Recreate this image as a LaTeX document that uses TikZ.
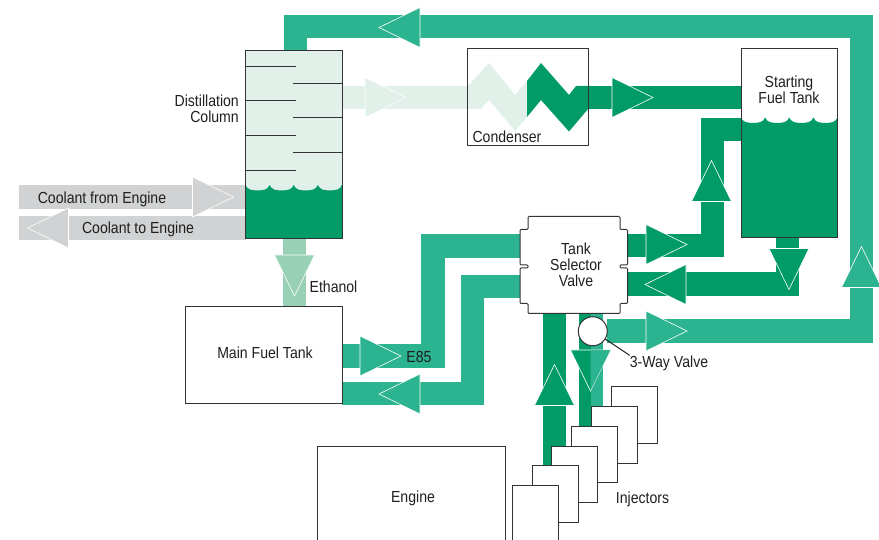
\documentclass[tikz,border=0pt]{standalone}
\usepackage{fontspec}
\setmainfont{Liberation Sans}[FakeStretch=0.88]
\usetikzlibrary{backgrounds}
\definecolor{darkgreen}{HTML}{009B67}
\definecolor{midgreen}{HTML}{2CB38F}
\definecolor{palegreen}{HTML}{97D0B5}
\definecolor{mistgreen}{HTML}{E1F0E9}
\definecolor{coolgray}{HTML}{D0D2D3}
\definecolor{inkgray}{HTML}{333333}
\tikzset{
  tankbox/.style={draw=inkgray, line width=1pt, fill=white, inner sep=0pt, outer sep=0pt, align=center, text=inkgray!60!black},
  tagtext/.style={inner sep=0pt, align=center, text=inkgray!60!black},
  pipe/.style={line width=23.5pt},
  darkpipe/.style={pipe, draw=darkgreen},
  midpipe/.style={pipe, draw=midgreen},
  palepipe/.style={pipe, draw=palegreen},
  mistpipe/.style={pipe, draw=mistgreen},
  coolpipe/.style={pipe, draw=coolgray},
  plate/.style={draw=inkgray, line width=1pt},
  flow/.pic={\path[pic actions, draw=white, line width=0.6pt] (0,-20) -- (41,0) -- (0,20) -- cycle;}
}
\newcommand{\liquid}[2]{%
  \fill[darkgreen] (#1.south west) -- (#1.west |- 0,#2)
    \foreach \s in {1,...,4}{ .. controls +(2,4.8) and +(-6,0) .. ++(12.06,5.4) .. controls +(6,0) and +(-2,4.8) .. ++(12.06,-5.4)}
    -- (#1.south east) -- cycle;
  \draw[plate] (#1.south west) rectangle (#1.north east);
}
\begin{document}
\begin{tikzpicture}[x=1pt, y=-1pt, every node/.append style={font=\fontsize{16}{16}\selectfont}]
  \useasboundingbox (0,0) rectangle (879,540);
  \node[tankbox, fill=mistgreen, minimum width=96.5pt, minimum height=188pt] (column) at (293.75,145) {};
  \foreach \y in {67,101,136,171} \draw[plate] (column.west |- 0,\y) -- (296,\y);
  \foreach \y in {84,118,153} \draw[plate] (293,\y) -- (column.east |- 0,\y);
  \liquid{column}{185}
  \node[tagtext, align=right, anchor=east] (columntext) at (239,109) {Distillation\\Column};
  \node[tankbox, fill=none, minimum width=121pt, minimum height=97pt] (condenser) at (528,97.5) {};
  \node[tagtext] (condensertext) at (507,136.5) {Condenser};
  \node[tankbox, minimum width=96.5pt, minimum height=188.5pt] (startfuel) at (789.25,143.25) {};
  \liquid{startfuel}{117.5}
  \node[tagtext] (startfueltext) at (789,89.5) {Starting\\Fuel Tank};
  \node[tankbox, minimum width=156.5pt, minimum height=97pt] (mainfuel) at (263.75,355) {};
  \node[tagtext] (mainfueltext) at (265,352.5) {Main Fuel Tank};
  \node[tankbox, minimum width=188pt, minimum height=101pt] (engine) at (411,497) {};
  \node[tagtext] (enginetext) at (413,498) {Engine};
  \draw[plate, fill=white, rounded corners=1pt] (528,216.5) -- (620,216.5) -- (620,229.5) -- (627.5,229.5) -- (627.5,265) -- (620,265) -- (620,268) -- (627.5,268) -- (627.5,303.5) -- (620,303.5) -- (620,313.5) -- (528,313.5) -- (528,303.5) -- (520,303.5) -- (520,268) -- (528,268) -- (528,265) -- (520,265) -- (520,229.5) -- (528,229.5) -- cycle;
  \node[inner sep=0pt, minimum width=107.5pt, minimum height=97pt] (valve) at (573.75,265) {};
  \node[tagtext] (valvetext) at (576,265) {Tank\\Selector\\Valve};
  \node[draw=inkgray, line width=1pt, fill=white, circle, minimum size=29pt, inner sep=0pt, outer sep=0pt] (threeway) at (592.75,331.25) {};
  \foreach \i in {0,...,5}
    \node[tankbox, minimum width=46pt, minimum height=56.5pt] (inj\i) at (634.5-19.85*\i,415+19.8*\i) {};
  \node[tagtext] (injectortext) at (642.5,499) {Injectors};
  \node[tagtext] (threetext) at (669,363) {3-Way Valve};
  \node[tagtext] (ethanoltext) at (333.5,287) {Ethanol};
  \node[tagtext] (e85text) at (419,356.5) {E85};
  \coordinate (coolin) at (19,197);
  \coordinate (coolout) at (19,228);
  \begin{scope}[on background layer]
    \draw[coolpipe] (coolin) -- (column.west |- coolin);
    \draw[coolpipe] (column.west |- coolout) -- (coolout);
    \draw[midpipe] (threeway) -| (861.5,26.5) -| ([xshift=1.75pt]column.north);
    \draw[palepipe] ([xshift=0.9pt]column.south) -- ([xshift=0.9pt]column.south |- mainfuel.north);
    \draw[mistpipe] (column.east |- 0,97.5) -- (475,97.5);
    \fill[mistgreen] (468,86) -- (489,63) -- (515,95) -- (527,81) -- (527,117) -- (515,131) -- (489,100) -- (481,109) -- (468,109) -- cycle;
    \fill[darkgreen] (527,81) -- (541,63) -- (569,95) -- (576,86) -- (590,86) -- (590,109) -- (588,109) -- (569,131.5) -- (541,100) -- (527,117) -- cycle;
    \draw[darkpipe] (585,97.5) -- (startfuel.west |- 0,97.5);
    \draw[midpipe] (mainfuel.east |- 0,355.75) -| (433,246.25) -- (valve.west |- 0,246.25);
    \draw[midpipe] (valve.west |- 0,286.75) -| (472.5,393.5) -- (mainfuel.east |- 0,393.5);
    \draw[darkpipe] (valve.east |- 0,245.75) -| (712.25,129.5) -- (startfuel.west |- 0,129.5);
    \draw[darkpipe] ([xshift=-1.75pt]startfuel.south) |- (valve.east |- 0,284);
    \draw[darkpipe] (valve.south -| 554.5,0) -- (554.5,0 |- inj4.north);
    \draw[darkpipe, line width=11.75pt] (valve.south -| 584.9,0) -- (584.9,0 |- inj2.north);
    \draw[midpipe, line width=12pt] (valve.south -| 596.5,0) -- (596.5,0 |- inj2.north);
  \end{scope}
  \draw[line width=1pt, draw=inkgray!60!black] (threeway.-32) -- (threetext.north west);
  \pic[fill=midgreen, rotate=180] at (420,27.5) {flow};
  \pic[fill=mistgreen] at (365,97.5) {flow};
  \pic[fill=darkgreen] at (612,97.5) {flow};
  \pic[fill=coolgray] at (192.5,197) {flow};
  \pic[fill=coolgray, rotate=180] at (68.5,228) {flow};
  \pic[fill=palegreen, rotate=-90] at (294.5,255) {flow};
  \pic[fill=midgreen] at (360,356) {flow};
  \pic[fill=midgreen, rotate=180] at (420,394) {flow};
  \pic[fill=darkgreen] at (646,244.5) {flow};
  \pic[fill=darkgreen, rotate=90] at (711.5,201.5) {flow};
  \pic[fill=darkgreen, rotate=-90] at (789,248.5) {flow};
  \pic[fill=darkgreen, rotate=180] at (686,284.5) {flow};
  \pic[fill=midgreen] at (646,331) {flow};
  \pic[fill=midgreen, rotate=90] at (861.5,287.5) {flow};
  \pic[fill=darkgreen, rotate=90] at (554.5,405.5) {flow};
  \pic[fill=darkgreen, rotate=-90] at (590.5,350) {flow};
  \fill[midgreen] (590.5,350.3) -- (610.2,350.3) -- (590.5,390.5) -- cycle;
  \node[tagtext] (coolintext) at (102,199) {Coolant from Engine};
  \node[tagtext] (coolouttext) at (138,229) {Coolant to Engine};
\end{tikzpicture}
\end{document}
